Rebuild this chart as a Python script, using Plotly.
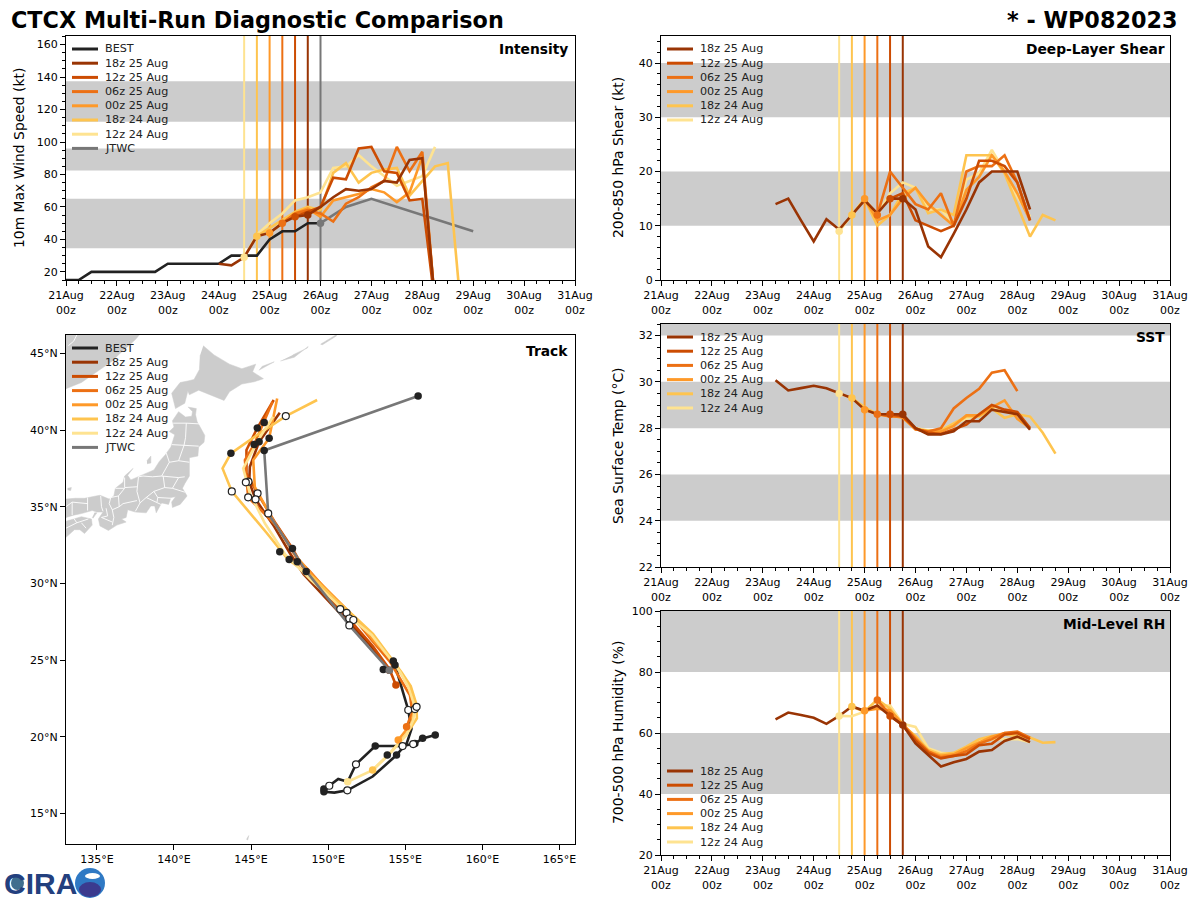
import pandas as pd
import plotly.graph_objects as go

# --- Run labels / colors ---
RUN_LABELS = ["18z 25 Aug", "12z 25 Aug", "06z 25 Aug", "00z 25 Aug", "18z 24 Aug", "12z 24 Aug"]
RUN_COLORS = ["#993404", "#cc4c02", "#ec7014", "#fe9929", "#fec44f", "#fee391"]
RUN_INITS = ["2023-08-25 18:00", "2023-08-25 12:00", "2023-08-25 06:00",
             "2023-08-25 00:00", "2023-08-24 18:00", "2023-08-24 12:00"]
BEST_COLOR = "#222222"
JTWC_COLOR = "#777777"
BAND_COLOR = "#cccccc"
LAND_COLOR = "#cccccc"

# --- Intensity (kt) ---
best_start = "2023-08-21 00:00"
best_vmax = [15, 15, 20, 20, 20, 20, 20, 20, 25, 25, 25, 25, 25, 30, 30, 30, 40, 45, 45, 50, 50]
jtwc_times = ["2023-08-26 00:00", "2023-08-26 06:00", "2023-08-26 12:00", "2023-08-27 00:00",
              "2023-08-28 00:00", "2023-08-29 00:00"]
jtwc_vmax = [50, 55, 60, 65, 55, 45]

vmax_starts = ["2023-08-24 00:00", "2023-08-25 12:00", "2023-08-25 06:00",
               "2023-08-25 00:00", "2023-08-24 18:00", "2023-08-24 12:00"]
vmax_18z25 = [25, 24, 29, 42, 44, 50, 54, 55, 60, 66, 71, 70, 71, 76, 75, 89, 90, 0]
vmax_12z25 = [54, 57, 60, 78, 77, 96, 97, 82, 81, 64, 65, 0]
vmax_06z25 = [50, 56, 58, 56, 51, 62, 66, 72, 76, 97, 82, 94, 0]
vmax_00z25 = [44, 50, 56, 59, 54, 64, 66, 68, 71, 69, 63, 69, 91, 0]
vmax_18z24 = [42, 47, 52, 57, 60, 58, 81, 87, 75, 81, 83, 84, 67, 76, 85, 87, 0]
vmax_12z24 = [29, 43, 50, 56, 64, 66, 69, 84, 85, 92, 85, 79, 73, 76, 79, 97]

# --- Deep-layer shear (kt) ---
shear_starts = ["2023-08-23 06:00", "2023-08-25 12:00", "2023-08-25 06:00",
                "2023-08-25 00:00", "2023-08-24 18:00", "2023-08-24 12:00"]
shear_18z25 = [14, 15, 11, 7.1, 11.2, 9.3, 12, 14.7, 12.3, 15, 15, 13, 6.2, 4.2, 8.5, 13, 18, 20, 20, 20, 13]
shear_12z25 = [15, 16, 11, 10, 9, 10, 15, 22, 22, 21, 18, 11]
shear_06z25 = [12, 20, 17, 14, 13, 16, 10, 20, 21, 21, 23, 18, 11]
shear_00z25 = [15, 11, 12, 15, 17, 14, 12, 10, 16.6, 19, 23, 20, 16, 11]
shear_18z24 = [12, 15, 10, 12, 16, 17, 12.3, 13, 12, 23, 23, 23, 19.7, 14, 8, 12, 11]
shear_12z24 = [9, 12, 15, 12, 16, 18, 17, 13, 13, 10.5, 18.5, 19.7, 24, 20, 15.4, 11.7]

# --- SST (C) ---
sst_18z25 = [30.07, 29.63, 29.73, 29.83, 29.72, 29.5, 29.3, 28.8, 28.6, 28.6, 28.6, 28.0, 27.73, 27.73,
             27.86, 28.3, 28.3, 28.8, 28.7, 28.6, 27.93]
sst_12z25 = [28.6, 28.5, 28.0, 27.8, 27.75, 27.95, 28.15, 28.6, 29.0, 28.8, 28.7, 28.0]
sst_06z25 = [28.6, 28.5, 28.5, 27.95, 27.85, 28.0, 28.85, 29.3, 29.7, 30.4, 30.5, 29.6]
sst_00z25 = [28.8, 28.6, 28.55, 28.45, 27.95, 27.85, 27.85, 28.1, 28.55, 28.55, 28.9, 29.2, 28.4, 28.0]
sst_18z24 = [29.3, 28.9, 28.6, 28.55, 28.5, 27.95, 27.9, 27.9, 28.2, 28.5, 28.5, 28.85, 28.45, 28.6, 28.5,
             27.8, 26.9]
sst_12z24 = [29.5, 29.3, 28.8, 28.6, 28.5, 28.5, 28.0, 27.9, 27.9, 28.2, 28.4, 28.6, 28.85, 28.7, 28.6, 28.0]

# --- Mid-level RH (%) ---
rh_18z25 = [64.5, 66.7, 65.9, 65, 63, 65.6, 68.7, 67.3, 69, 65.6, 62.6, 56.6, 52.8, 49, 50.4, 51.5, 53.9,
            54.4, 57.4, 58.8, 57]
rh_12z25 = [65.6, 62.6, 57.5, 53.5, 51.7, 52.5, 53, 56, 56.5, 59.5, 60, 58]
rh_06z25 = [70.8, 66, 62.6, 58, 54, 52, 52.5, 54, 56.5, 58, 60, 60.5, 58.5]
rh_00z25 = [67.3, 68, 67.5, 63, 58.5, 54, 52.5, 53, 55, 57, 58.8, 60, 60, 58]
rh_18z24 = [68.7, 67, 71, 68, 62.5, 59, 54.5, 53, 53.5, 55.5, 58, 59, 59.5, 59, 58.5, 56.8, 57]
rh_12z24 = [65.6, 65.5, 67, 69, 69, 63, 62, 55, 53.5, 53, 55, 57.5, 58, 58, 58, 57]

# --- Threshold bands ---
vmax_bands = [(34.5, 65), (82.5, 96), (112.5, 137.5)]
shear_bands = [(10, 20), (30, 40)]
sst_bands = [(24, 26), (28, 30), (32, 33)]
rh_bands = [(40, 60), (80, 100)]

# --- Tracks ---
best_lon = [156.94, 156.12, 155.62, 154.82, 153.05, 151.8, 151.26, 150.65, 150.07, 149.72, 150.4, 151.24,
            152.88, 154.43, 155.1, 155.4, 155.19, 154.76, 154.33, 153.96]
best_lat = [20.11, 19.89, 19.56, 19.39, 19.39, 18.2, 17.06, 17.24, 16.8, 16.41, 16.35, 16.5,
            17.4, 18.8, 19.6, 20.5, 21.74, 23.15, 24.67, 24.34]
jtwc_lon = [153.96, 151.37, 148.57, 146.11, 145.85, 155.83]
jtwc_lat = [24.34, 27.26, 30.8, 34.56, 38.67, 42.22]

lon_18z25 = [153.96, 152.7, 151.37, 149.9, 148.4, 147.5, 146.5, 145.29, 144.88, 144.92, 145.52, 146.86]
lat_18z25 = [24.34, 26.0, 27.4, 29.0, 30.6, 32.0, 33.7, 35.48, 36.63, 37.61, 39.24, 41.13]
lon_12z25 = [154.39, 153.97, 152.9, 151.5, 150.0, 148.5, 147.68, 146.6, 145.42, 144.7, 144.7, 145.4, 146.47]
lat_12z25 = [23.37, 24.4, 25.9, 27.5, 29.1, 30.8, 32.28, 33.9, 35.87, 37.17, 38.7, 40.13, 41.96]
lon_06z25 = [155.08, 155.45, 155.3, 154.6, 154.0, 152.9, 151.7, 150.2, 148.8, 147.99, 146.7, 144.81, 144.7,
             144.6, 145.2, 146.39]
lat_06z25 = [20.65, 21.6, 22.7, 23.9, 24.9, 26.2, 27.7, 29.2, 30.8, 31.6, 33.7, 35.61, 36.74,
             38.04, 39.06, 41.85]
lon_00z25 = [154.54, 155.35, 155.6, 155.4, 154.8, 154.22, 153.0, 151.9, 150.5, 149.1, 147.9, 146.6, 145.24,
             145.14, 146.17, 146.69]
lat_00z25 = [19.78, 20.8, 21.8, 22.9, 24.0, 24.93, 26.2, 27.6, 29.0, 30.4, 31.8, 33.8, 36.3,
             38.04, 39.46, 42.06]
lon_18z24 = [152.88, 154.0, 155.1, 155.75, 155.72, 155.35, 154.75, 154.0, 152.9, 151.75, 150.4, 149.0, 147.4,
             146.0, 143.75, 143.15, 143.69, 145.5, 147.25, 149.28]
lat_18z24 = [17.82, 18.91, 20.2, 21.2, 22.1, 23.3, 24.2, 25.2, 26.7, 27.8, 29.0, 30.4, 31.56,
             33.3, 36.0, 37.5, 38.48, 39.75, 40.91, 41.96]
lon_12z24 = [151.26, 152.88, 154.0, 155.08, 155.51, 155.62, 155.19, 154.65, 154.0, 152.81, 151.63, 150.33,
             148.9, 147.2, 145.9, 144.92, 144.49, 145.46, 146.43]
lat_12z24 = [17.06, 17.82, 18.91, 20.11, 21.08, 21.95, 23.26, 24.24, 25.1, 26.63, 27.61, 28.91,
             30.2, 31.9, 33.9, 35.87, 37.5, 39.35, 40.87]

# 00z (filled) and 12z (open) position dots on the tracks
filled_lon = [156.94, 156.12, 155.62, 154.43, 153.83, 153.05, 149.72, 149.72, 154.22, 154.33, 153.57,
              145.85, 145.4, 145.52, 145.2, 146.17, 143.69, 145.85, 155.83, 146.86, 147.68, 147.47, 147.99, 148.57]
filled_lat = [20.11, 19.89, 19.56, 18.8, 18.8, 19.39, 16.41, 16.58, 24.93, 24.67, 24.39,
              40.5, 40.13, 39.24, 39.06, 39.46, 38.48, 38.67, 42.22, 32.06, 32.28, 31.56, 31.41, 30.78]
open_lon = [154.82, 155.51, 151.8, 150.07, 151.24, 155.19, 155.62, 155.73, 150.78, 151.19, 151.37, 151.63, 151.37,
            147.25, 144.83, 144.66, 145.42, 144.81, 145.29, 143.75, 146.11]
open_lat = [19.39, 19.52, 18.2, 16.8, 16.5, 21.74, 21.8, 21.95, 28.32, 28.08, 27.71, 27.61, 27.26,
            40.91, 36.63, 36.59, 35.87, 35.61, 35.48, 36.0, 34.56]

# --- Land outlines (lon/lat) ---
hokkaido_lon = [141.9, 142.6, 143.6, 144.4, 145.3, 145.1, 145.8, 145.2, 144.4, 143.6, 143.25, 142.6, 141.6, 141.0,
                140.9, 140.7, 140.1, 139.85, 140.4, 140.9, 141.3, 141.65, 141.7]
hokkaido_lat = [45.5, 44.9, 44.3, 44.0, 44.3, 43.8, 43.35, 43.15, 43.0, 42.5, 41.93, 42.2, 42.6, 42.3,
                42.55, 41.75, 41.4, 42.4, 43.1, 43.2, 43.3, 43.95, 44.9]
honshu_lon = [140.9, 141.45, 141.4, 141.5, 142.0, 141.95, 141.6, 141.55, 141.0, 141.0, 141.0, 140.7, 140.55,
              140.85, 140.4, 139.9, 139.85, 140.1, 139.8, 139.65, 139.2, 138.85, 138.75, 138.5, 138.2, 137.5,
              137.0, 136.9, 136.6, 136.9, 136.3, 135.75, 135.2, 135.1, 135.4, 135.0, 134.7, 134.0, 133.5, 133.0,
              133.0, 133.6, 134.2, 135.2, 135.8, 136.1, 136.2, 136.7, 136.8, 137.35, 137.0, 137.2, 138.2, 138.7,
              139.05, 139.45, 139.8, 140.05, 139.7, 140.0, 139.9, 140.3, 140.75, 141.15, 141.2]
honshu_lat = [41.5, 41.4, 41.0, 40.55, 39.65, 39.2, 38.9, 38.3, 38.2, 37.7, 37.0, 36.5, 36.2,
              35.7, 35.15, 34.95, 35.3, 35.65, 35.6, 35.15, 35.25, 34.6, 35.05, 35.05, 34.6, 34.65,
              34.8, 34.3, 34.2, 34.0, 33.8, 33.45, 33.75, 34.2, 34.65, 34.65, 34.75, 34.55, 34.45, 34.3,
              35.5, 35.55, 35.55, 35.75, 35.5, 35.7, 36.2, 36.6, 37.0, 37.5, 37.05, 36.75, 37.2, 37.4,
              37.95, 38.4, 38.9, 39.7, 39.9, 40.2, 40.6, 41.2, 40.85, 40.9, 41.2]
shikoku_lon = [133.0, 133.6, 134.0, 134.65, 134.7, 134.2, 133.9, 133.55, 133.0, 133.0]
shikoku_lat = [34.05, 34.25, 34.35, 34.2, 33.8, 33.25, 33.5, 33.5, 33.05, 33.0]
russia_lon = [133.0, 133.0, 134.0, 135.0, 136.0, 136.5, 137.5, 138.0, 133.0]
russia_lat = [46.5, 42.7, 43.1, 43.8, 44.5, 45.0, 45.9, 46.5, 46.5]
sado_lon = [138.25, 138.5, 138.5, 138.25]
sado_lat = [38.0, 38.3, 37.85, 37.8]
oki_lon = [133.1, 133.35, 133.3, 133.1]
oki_lat = [36.2, 36.25, 36.05, 36.1]
awaji_lon = [134.85, 135.0, 134.75, 134.7]
awaji_lat = [34.6, 34.6, 34.25, 34.3]
kunashiri_lon = [145.5, 146.3, 146.5, 145.7]
kunashiri_lat = [43.9, 44.3, 44.45, 44.15]
etorofu_lon = [146.9, 147.8, 148.7, 148.65, 147.7]
etorofu_lat = [44.5, 44.75, 45.45, 45.35, 44.9]
urup_lon = [149.5, 150.5, 150.55, 149.6]
urup_lat = [45.6, 46.2, 46.15, 45.55]
guam_lon = [144.7, 144.85, 144.78]
guam_lat = [13.3, 13.55, 13.25]

LAND = [(russia_lon, russia_lat), (hokkaido_lon, hokkaido_lat), (honshu_lon, honshu_lat),
        (shikoku_lon, shikoku_lat), (sado_lon, sado_lat), (oki_lon, oki_lat), (awaji_lon, awaji_lat),
        (kunashiri_lon, kunashiri_lat), (etorofu_lon, etorofu_lat), (urup_lon, urup_lat), (guam_lon, guam_lat)]

# prefecture / national boundaries, white on the land
BORDERS = [
    [(133.15, 45.5), (133.5, 45.8), (133.8, 46.4)],
    [(139.95, 40.45), (140.8, 40.45), (141.7, 40.4)],
    [(140.8, 40.45), (140.75, 39.5), (140.65, 39.0)],
    [(139.85, 39.05), (140.65, 39.0), (141.6, 38.95)],
    [(140.65, 39.0), (140.3, 38.0), (141.0, 37.9)],
    [(139.5, 38.5), (139.7, 37.9), (140.3, 38.0)],
    [(139.7, 37.9), (139.2, 37.0), (140.3, 36.9), (140.7, 36.95)],
    [(137.7, 36.95), (138.0, 37.0), (138.6, 36.95), (139.2, 37.0)],
    [(139.3, 37.0), (139.4, 36.25)],
    [(140.3, 36.9), (139.9, 36.2)],
    [(138.7, 36.0), (139.4, 36.25), (139.9, 36.2), (140.7, 35.95)],
    [(138.95, 35.6), (139.8, 35.55)],
    [(137.5, 34.7), (137.8, 35.25), (138.2, 35.6), (138.9, 35.3), (139.15, 35.15)],
    [(137.7, 36.95), (137.6, 36.0), (137.8, 35.25)],
    [(138.2, 35.6), (138.7, 36.0), (138.95, 35.6), (138.9, 35.3)],
    [(136.8, 36.9), (136.8, 36.25), (137.6, 36.3)],
    [(137.6, 35.4), (136.7, 35.2)],
    [(136.2, 36.2), (136.8, 36.2), (136.4, 35.7)],
    [(135.9, 35.6), (136.4, 35.7), (136.45, 35.0), (136.0, 34.8), (135.8, 35.2), (135.9, 35.6)],
    [(136.7, 35.2), (136.45, 35.0)],
    [(136.0, 34.8), (136.1, 34.3), (136.0, 33.8)],
    [(135.3, 34.3), (136.0, 34.0)],
    [(135.25, 35.7), (135.3, 35.0), (135.4, 34.7)],
    [(135.6, 34.9), (135.7, 34.4), (135.3, 34.3)],
    [(134.4, 35.6), (134.4, 34.75)],
    [(134.4, 35.2), (133.4, 35.3), (133.0, 35.0)],
    [(133.4, 35.3), (133.4, 34.45)],
    [(133.5, 34.25), (133.7, 33.95), (134.45, 34.2)],
    [(133.7, 33.95), (133.0, 33.6)],
    [(134.0, 33.95), (134.3, 33.6)],
]

# --- Axis labels ---
LAT_TICKS = [15, 20, 25, 30, 35, 40, 45]
LON_TICKS = [135, 140, 145, 150, 155, 160, 165]
XRANGE = ["2023-08-21 00:00", "2023-08-31 00:00"]


def paper_x(px):
    return px / 1200


def paper_y(py):
    return 1 - py / 900


def series_times(start, values):
    return pd.date_range(start, periods=len(values), freq="6h")


def add_panel_lines(fig, axis, starts, runs, jtwc=False):
    """Draws one time series panel, light runs first so the newest sit on top."""
    xa, ya = f"x{axis}", f"y{axis}"
    if jtwc:
        fig.add_trace(go.Scatter(x=series_times(best_start, best_vmax), y=best_vmax, mode="lines",
                                 line=dict(color=BEST_COLOR, width=2.6), xaxis=xa, yaxis=ya))
        fig.add_trace(go.Scatter(x=pd.to_datetime(jtwc_times), y=jtwc_vmax, mode="lines",
                                 line=dict(color=JTWC_COLOR, width=2.6), xaxis=xa, yaxis=ya))
    for i in reversed(range(len(runs))):
        fig.add_trace(go.Scatter(x=series_times(starts[i], runs[i]), y=runs[i], mode="lines",
                                 line=dict(color=RUN_COLORS[i], width=2.6), xaxis=xa, yaxis=ya))
    for i in reversed(range(len(runs))):
        times = series_times(starts[i], runs[i])
        k = list(times).index(pd.Timestamp(RUN_INITS[i]))
        fig.add_trace(go.Scatter(x=[times[k]], y=[runs[i][k]], mode="markers",
                                 marker=dict(color=RUN_COLORS[i], size=7.5), xaxis=xa, yaxis=ya))
    if jtwc:
        fig.add_trace(go.Scatter(x=pd.to_datetime(jtwc_times[:1]), y=jtwc_vmax[:1], mode="markers",
                                 marker=dict(color=JTWC_COLOR, size=7.5), xaxis=xa, yaxis=ya))


def add_bands_and_inits(fig, axis, bands, jtwc=False):
    xa = f"x{axis}"
    ya = f"y{axis}"
    for y0, y1 in bands:
        fig.add_shape(type="rect", xref=f"{xa} domain", yref=ya, x0=0, x1=1, y0=y0, y1=y1,
                      fillcolor=BAND_COLOR, line_width=0, layer="below")
    inits = list(zip(RUN_INITS, RUN_COLORS))
    if jtwc:
        inits.append(("2023-08-26 00:00", JTWC_COLOR))
    for t, c in reversed(inits):
        fig.add_shape(type="line", xref=xa, yref=f"{ya} domain", x0=t, x1=t, y0=0, y1=1,
                      line=dict(color=c, width=2), layer="below")


def add_legend(fig, top_px, left_px, labels, colors):
    for i, (label, color) in enumerate(zip(labels, colors)):
        y = top_px + i * 14.2
        fig.add_shape(type="line", xref="paper", yref="paper", x0=paper_x(left_px), x1=paper_x(left_px + 26),
                      y0=paper_y(y), y1=paper_y(y), line=dict(color=color, width=3))
        fig.add_annotation(xref="paper", yref="paper", x=paper_x(left_px + 31), y=paper_y(y), text=label,
                           showarrow=False, xanchor="left", yanchor="middle", font=dict(size=11.2, color="#222222"))


def panel_label(fig, right_px, y_px, text):
    fig.add_annotation(xref="paper", yref="paper", x=paper_x(right_px), y=paper_y(y_px), text=f"<b>{text}</b>",
                       showarrow=False, xanchor="right", yanchor="middle", font=dict(size=13.8, color="black"))


def y_title(fig, x_px, y_px, text):
    fig.add_annotation(xref="paper", yref="paper", x=paper_x(x_px), y=paper_y(y_px), text=text, textangle=-90,
                       showarrow=False, xanchor="center", yanchor="middle", font=dict(size=13.9, color="black"))


def time_axis(left, right, anchor):
    return dict(domain=[paper_x(left), paper_x(right)], anchor=anchor, type="date", range=XRANGE, automargin=False,
                dtick=86400000, tickformat="%d%b<br>%Hz", ticks="outside", ticklen=5, tickcolor="black",
                showline=True, mirror=True, linecolor="black", linewidth=1, showgrid=False, zeroline=False,
                tickfont=dict(size=11), minor=dict(dtick=21600000, ticks="outside", ticklen=3, tickcolor="black"))


def value_axis(top, bottom, anchor, yrange, dtick, minor):
    return dict(domain=[paper_y(bottom), paper_y(top)], anchor=anchor, range=yrange, dtick=dtick, ticks="outside",
                ticklen=5, tickcolor="black", showline=True, mirror=True, linecolor="black", linewidth=1,
                showgrid=False, zeroline=False, tickfont=dict(size=11), automargin=False,
                minor=dict(dtick=minor, ticks="outside", ticklen=3, tickcolor="black"))


fig = go.Figure()

# 1. Time series panels
add_panel_lines(fig, "", vmax_starts, [vmax_18z25, vmax_12z25, vmax_06z25, vmax_00z25, vmax_18z24, vmax_12z24],
                jtwc=True)
add_panel_lines(fig, "2", shear_starts, [shear_18z25, shear_12z25, shear_06z25, shear_00z25, shear_18z24, shear_12z24])
add_panel_lines(fig, "4", shear_starts, [sst_18z25, sst_12z25, sst_06z25, sst_00z25, sst_18z24, sst_12z24])
add_panel_lines(fig, "5", shear_starts, [rh_18z25, rh_12z25, rh_06z25, rh_00z25, rh_18z24, rh_12z24])

add_bands_and_inits(fig, "", vmax_bands, jtwc=True)
add_bands_and_inits(fig, "2", shear_bands)
add_bands_and_inits(fig, "4", sst_bands)
add_bands_and_inits(fig, "5", rh_bands)

# 2. Track panel: land, then tracks, then dots
for lon, lat in LAND:
    fig.add_trace(go.Scatter(x=lon, y=lat, mode="lines", fill="toself", fillcolor=LAND_COLOR,
                             line=dict(color=LAND_COLOR, width=0.5), xaxis="x3", yaxis="y3"))
for border in BORDERS:
    fig.add_trace(go.Scatter(x=[p[0] for p in border], y=[p[1] for p in border], mode="lines",
                             line=dict(color="white", width=0.9), xaxis="x3", yaxis="y3"))

fig.add_trace(go.Scatter(x=best_lon, y=best_lat, mode="lines", line=dict(color=BEST_COLOR, width=2.6),
                         xaxis="x3", yaxis="y3"))
track_lons = [lon_18z25, lon_12z25, lon_06z25, lon_00z25, lon_18z24, lon_12z24]
track_lats = [lat_18z25, lat_12z25, lat_06z25, lat_00z25, lat_18z24, lat_12z24]
for i in range(len(track_lons)):
    fig.add_trace(go.Scatter(x=track_lons[i], y=track_lats[i], mode="lines",
                             line=dict(color=RUN_COLORS[i], width=2.6), xaxis="x3", yaxis="y3"))
fig.add_trace(go.Scatter(x=jtwc_lon, y=jtwc_lat, mode="lines", line=dict(color=JTWC_COLOR, width=2.6),
                         xaxis="x3", yaxis="y3"))
for i in range(len(track_lons)):
    fig.add_trace(go.Scatter(x=track_lons[i][:1], y=track_lats[i][:1], mode="markers",
                             marker=dict(color=RUN_COLORS[i], size=7.5), xaxis="x3", yaxis="y3"))
fig.add_trace(go.Scatter(x=filled_lon, y=filled_lat, mode="markers", marker=dict(color=BEST_COLOR, size=7.5),
                         xaxis="x3", yaxis="y3"))
fig.add_trace(go.Scatter(x=open_lon, y=open_lat, mode="markers",
                         marker=dict(color="white", size=7, line=dict(color=BEST_COLOR, width=1.2)),
                         xaxis="x3", yaxis="y3"))
fig.add_trace(go.Scatter(x=jtwc_lon[:1], y=jtwc_lat[:1], mode="markers", marker=dict(color=JTWC_COLOR, size=7.5),
                         xaxis="x3", yaxis="y3"))

# 3. Legends and panel labels
all_labels = ["BEST"] + RUN_LABELS + ["JTWC"]
all_colors = [BEST_COLOR] + RUN_COLORS + [JTWC_COLOR]
add_legend(fig, 49, 72, all_labels, all_colors)
add_legend(fig, 348, 72, all_labels, all_colors)
add_legend(fig, 49, 667, RUN_LABELS, RUN_COLORS)
add_legend(fig, 337, 667, RUN_LABELS, RUN_COLORS)
add_legend(fig, 771, 667, RUN_LABELS, RUN_COLORS)

panel_label(fig, 570, 49, "Intensity")
panel_label(fig, 1167, 49, "Deep-Layer Shear")
panel_label(fig, 570, 351, "Track")
panel_label(fig, 1167, 337, "SST")
panel_label(fig, 1167, 624, "Mid-Level RH")

y_title(fig, 19, 158, "10m Max Wind Speed (kt)")
y_title(fig, 618, 158, "200-850 hPa Shear (kt)")
y_title(fig, 618, 446, "Sea Surface Temp (°C)")
y_title(fig, 618, 733, "700-500 hPa Humidity (%)")

# 4. Titles
fig.add_annotation(xref="paper", yref="paper", x=paper_x(9), y=paper_y(20),
                   text="<b>CTCX Multi-Run Diagnostic Comparison</b>", showarrow=False, xanchor="left",
                   yanchor="middle", font=dict(size=22.3, color="black"))
fig.add_annotation(xref="paper", yref="paper", x=paper_x(1179), y=paper_y(20), text="<b>* - WP082023</b>",
                   showarrow=False, xanchor="right", yanchor="middle", font=dict(size=22.3, color="black"))

# 5. CIRA logo, roughly
fig.add_annotation(xref="paper", yref="paper", x=paper_x(2), y=paper_y(883), text="<b>CIRA</b>", showarrow=False,
                   xanchor="left", yanchor="middle", font=dict(size=30, color="#23407e", family="Liberation Sans"))
fig.add_shape(type="circle", xref="paper", yref="paper", x0=paper_x(11), x1=paper_x(24), y0=paper_y(890),
              y1=paper_y(876), fillcolor="#3f6f8f", line_width=0)
fig.add_shape(type="circle", xref="paper", yref="paper", x0=paper_x(75), x1=paper_x(105), y0=paper_y(898),
              y1=paper_y(868), fillcolor="#2f79c4", line_width=0)
fig.add_shape(type="circle", xref="paper", yref="paper", x0=paper_x(79), x1=paper_x(101), y0=paper_y(897),
              y1=paper_y(882), fillcolor="#3b3a8e", line_width=0)
fig.add_shape(type="circle", xref="paper", yref="paper", x0=paper_x(85), x1=paper_x(100), y0=paper_y(879),
              y1=paper_y(873), fillcolor="white", line_width=0)

# 6. Layout
fig.update_layout(
    width=1200, height=900, margin=dict(l=0, r=0, t=0, b=0), showlegend=False, hovermode="closest",
    plot_bgcolor="white", paper_bgcolor="white",
    font=dict(family="DejaVu Sans", color="black", size=11),
    xaxis=time_axis(66, 575, "y"),
    yaxis=value_axis(36, 280, "x", [15, 165.3], 20, 5),
    xaxis2=time_axis(661, 1170, "y2"),
    yaxis2=value_axis(36, 280, "x2", [0, 45], 10, 2),
    xaxis3=dict(domain=[paper_x(66), paper_x(575)], anchor="y3", range=[133, 166], tickvals=LON_TICKS,
                ticktext=[f"{v}°E" for v in LON_TICKS], ticks="outside", ticklen=5, tickcolor="black", automargin=False,
                showline=True, mirror=True, linecolor="black", linewidth=1, showgrid=False, zeroline=False),
    yaxis3=dict(domain=[paper_y(844), paper_y(335)], anchor="x3", range=[13, 46.2], tickvals=LAT_TICKS,
                ticktext=[f"{v}°N" for v in LAT_TICKS], ticks="outside", ticklen=5, tickcolor="black", automargin=False,
                showline=True, mirror=True, linecolor="black", linewidth=1, showgrid=False, zeroline=False),
    xaxis4=time_axis(661, 1170, "y4"),
    yaxis4=value_axis(324, 567, "x4", [22, 32.5], 2, 0.5),
    xaxis5=time_axis(661, 1170, "y5"),
    yaxis5=value_axis(611, 855, "x5", [20, 100], 20, 5),
)

fig.write_html("out.html", config={"displayModeBar": False}, post_script="document.body.style.margin='0';")
